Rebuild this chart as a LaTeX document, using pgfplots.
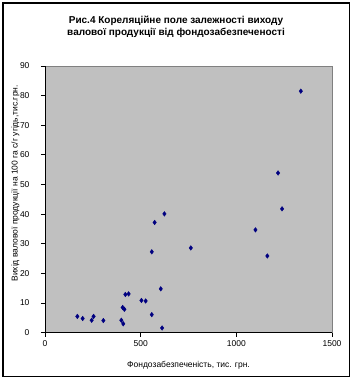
\documentclass[border=0pt]{standalone}
\usepackage{pgfplots}
\pgfplotsset{compat=1.18}
\usepackage{fontspec}
\setmainfont{Liberation Sans}
\definecolor{plotbg}{RGB}{192,192,192}
\definecolor{mk}{RGB}{0,0,128}
\begin{document}
\begin{tikzpicture}
\path[use as bounding box] (0pt,0pt) rectangle (353pt,379pt);
\fill[white] (0pt,0pt) rectangle (353pt,379pt);
\draw[black, line width=1.3pt] (3pt,2.5pt) rectangle (349.5pt,376pt);
\node[font=\bfseries\fontsize{10}{12}\selectfont, align=center] at (176pt,352.5pt) {Рис.4 Кореляційне поле залежності виходу\\валової продукції від фондозабезпеченості};
\begin{axis}[
  name=ax,
  at={(45pt,46.3pt)}, anchor=origin,
  scale only axis, width=287pt, height=266.7pt,
  xmin=0, xmax=1500, ymin=0, ymax=90,
  xtick={0,500,1000,1500}, ytick={0,10,...,90},
  axis background/.style={fill=plotbg},
  axis line style={draw=gray, line width=0.8pt},
  tick align=outside, tick pos=left,
  major tick length=4pt,
  tick style={black, line width=0.8pt},
  ticklabel style={font=\fontsize{8.5}{10}\selectfont},
  yticklabel style={xshift=-8pt},
  /pgf/number format/assume math mode=true,
  /pgf/number format/1000 sep={},
  scaled ticks=false,
  clip=false,
  xlabel={Фондозабезпеченість, тис. грн.},
  ylabel={Вихід валової продукції на 100 га с/г угідь,тис.грн.},
  label style={font=\fontsize{8.5}{10}\selectfont},
  xlabel style={at={(axis description cs:0.5,0)}, anchor=north, yshift=-25pt},
  ylabel style={at={(axis description cs:0,0.56)}, anchor=south, yshift=22pt},
]
\draw[black, line width=1pt] (axis cs:0,90) -- (axis cs:0,0) -- (axis cs:1500,0);
\addplot[only marks, mark=diamond*, mark size=2.3pt, color=mk, mark options={fill=mk, draw=mk}] coordinates {
(169,5.5) (197,4.8) (244,4.2) (254,5.5) (305,4.1)
(399,4.2) (409,3.0) (406,8.5) (415,7.9) (420,12.9)
(437,13.1) (504,10.9) (526,10.7) (558,6.1) (612,1.6)
(605,14.8) (558,27.3) (573,37.2) (624,40.1) (762,28.6)
(1100,34.7) (1162,25.9) (1239,41.8) (1337,81.5) (1218,53.9)
};
\end{axis}
\end{tikzpicture}
\end{document}
